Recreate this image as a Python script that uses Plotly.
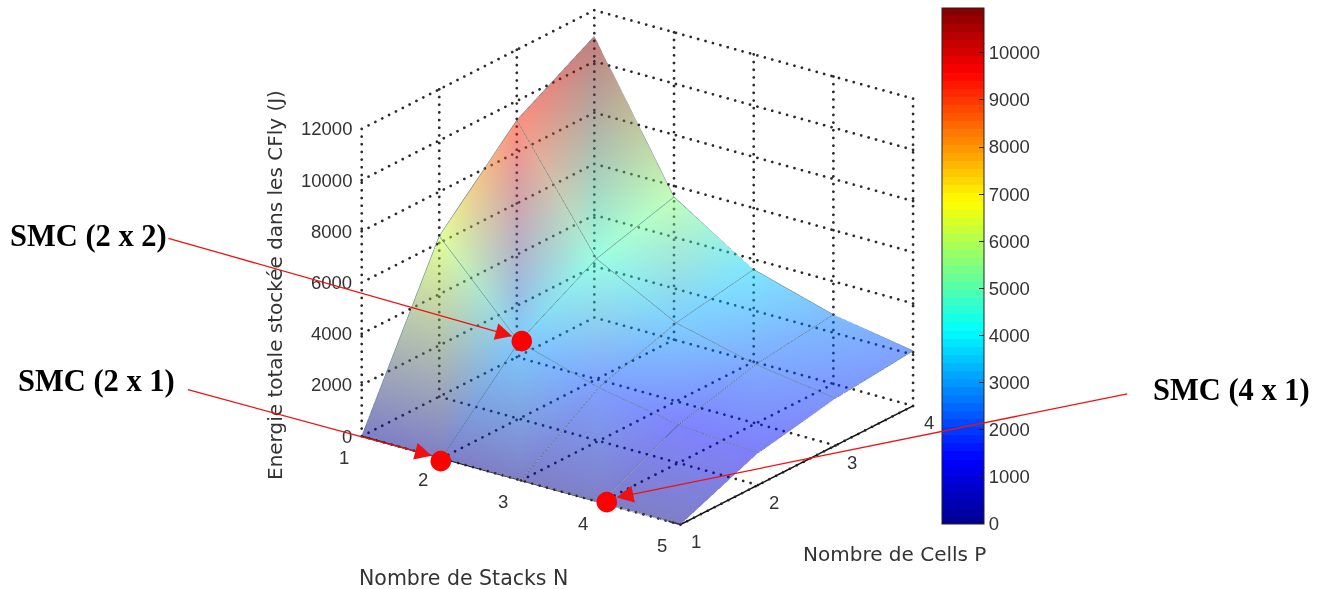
import math
import plotly.graph_objects as go

W, H = 1325, 589
stacks_n = [1, 2, 3, 4, 5]
cells_p = [1, 2, 3, 4]
z_ticks = [0, 2000, 4000, 6000, 8000, 10000, 12000]
cbar_ticks = list(range(0, 11000, 1000))
energy_p1 = [0, 0, 0, 0, 0]
energy_p2 = [6270, 3000, 2080, 1490, 1250]
energy_p3 = [9250, 4700, 3060, 2300, 1840]
energy_p4 = [10980, 5570, 3600, 2700, 2150]
energy = [energy_p1, energy_p2, energy_p3, energy_p4]
smc_n = [2, 2, 4]
smc_p = [2, 1, 1]
smc_z = [3000, 0, 0]
smc_shift_x = [3, 0, 6]
smc_shift_y = [3, 0, 3]
cmax = 10950
jet_stops = [(0, (0, 0, 143)), (0.125, (0, 0, 255)), (0.375, (0, 255, 255)),
             (0.625, (255, 255, 0)), (0.875, (255, 0, 0)), (1, (128, 0, 0))]


def jet_rgb(t):
    t = min(max(t, 0), 1)
    for (t0, c0), (t1, c1) in zip(jet_stops, jet_stops[1:]):
        if t <= t1:
            f = (t-t0)/(t1-t0)
            return tuple(round(c0[i]+(c1[i]-c0[i])*f) for i in range(3))
    return jet_stops[-1][1]


def css(c):
    return f"rgb({c[0]},{c[1]},{c[2]})"


# 64 level colour map, as the colour bar shows it
levels = 64
jet64 = []
for lv in range(levels):
    c = css(jet_rgb((lv+0.5)/levels))
    jet64 += [[lv/levels, c], [(lv+1)/levels, c]]

az = math.radians(36.4)
el = math.radians(22.1)
dist = 1.5
px = 293.0
view = (math.sin(az)*math.cos(el), -math.cos(az)*math.cos(el), math.sin(el))
right = (math.cos(az), math.sin(az), 0)
upv = (-math.sin(az)*math.sin(el), math.cos(az)*math.sin(el), math.cos(el))
sx, sy = 25/px, 27/px
center = [sx*right[i] - sy*upv[i] for i in range(3)]
eye = [center[i] + dist*view[i] for i in range(3)]

n0, n1 = stacks_n[0], stacks_n[-1]
p0, p1 = cells_p[0], cells_p[-1]
z0, z1 = z_ticks[0], z_ticks[-1]
grid = []
for n in stacks_n:
    grid.append(((n, p0, z0), (n, p1, z0)))
    grid.append(((n, p1, z0), (n, p1, z1)))
for p in cells_p:
    grid.append(((n0, p, z0), (n1, p, z0)))
    grid.append(((n0, p, z0), (n0, p, z1)))
for zt in z_ticks:
    grid.append(((n0, p0, zt), (n0, p1, zt)))
    grid.append(((n0, p1, zt), (n1, p1, zt)))

# dotted rule: one small marker every few screen pixels along each grid line
gx, gy, gz = [], [], []
for a, b in grid:
    sdx = (b[0]-a[0])/(n1-n0)*317 + (b[1]-a[1])/(p1-p0)*231
    sdy = (b[0]-a[0])/(n1-n0)*88 - (b[1]-a[1])/(p1-p0)*118 - (b[2]-a[2])/(z1-z0)*306
    steps = int(math.hypot(sdx, sdy)/7.5)
    for k in range(steps+1):
        t = k/steps
        gx.append(a[0]+(b[0]-a[0])*t)
        gy.append(a[1]+(b[1]-a[1])*t)
        gz.append(a[2]+(b[2]-a[2])*t)

ex = [n0, n1, n1]
ey = [p0, p0, p1]
ez = [z0, z0, z0]

# vertices of the surface, coloured per vertex so the RGB blends across each facet
vx, vy, vz, vc = [], [], [], []
for jp, p in enumerate(cells_p):
    for jn, n in enumerate(stacks_n):
        vx.append(n)
        vy.append(p)
        vz.append(energy[jp][jn])
        vc.append(css(jet_rgb(energy[jp][jn]/cmax)))
cols = len(stacks_n)
ti, tj, tk = [], [], []
for jp in range(len(cells_p)-1):
    for jn in range(cols-1):
        a = jp*cols+jn
        b = a+1
        c = a+cols
        d = c+1
        ti += [a, b]
        tj += [b, d]
        tk += [c, c]

# wire lines of the surface
wx, wy, wz = [], [], []
for jp, p in enumerate(cells_p):
    wx += stacks_n + [None]
    wy += [p]*cols + [None]
    wz += energy[jp] + [None]
for jn, n in enumerate(stacks_n):
    wx += [n]*len(cells_p) + [None]
    wy += cells_p + [None]
    wz += [row[jn] for row in energy] + [None]

fig = go.Figure()
fig.add_trace(go.Scatter3d(x=gx, y=gy, z=gz, mode="markers", hoverinfo="skip", showlegend=False,
                           marker=dict(color="#2a2a2a", size=1.6, line=dict(width=0))))
fig.add_trace(go.Scatter3d(x=wx, y=wy, z=wz, mode="lines", hoverinfo="skip", showlegend=False,
                           line=dict(color="#5f7f8a", width=1.2)))
fig.add_trace(go.Scatter3d(x=ex, y=ey, z=ez, mode="lines", hoverinfo="skip", showlegend=False,
                           line=dict(color="#111111", width=3)))
fig.add_trace(go.Mesh3d(x=vx, y=vy, z=vz, i=ti, j=tj, k=tk, vertexcolor=vc, opacity=0.5, flatshading=False,
                        lighting=dict(ambient=1, diffuse=0, specular=0, roughness=1, fresnel=0),
                        hoverinfo="skip", showscale=False))
fig.add_trace(go.Scatter3d(
    x=smc_n, y=smc_p, z=smc_z, mode="markers", hoverinfo="skip", showlegend=False,
    marker=dict(size=1, color=smc_z, cmin=0, cmax=cmax, colorscale=jet64, showscale=True,
                colorbar=dict(x=942/W, xanchor="left", y=1-8/H, yanchor="top", len=516/H, lenmode="fraction",
                              thickness=42, thicknessmode="pixels", xpad=0, ypad=0,
                              outlinecolor="#222222", outlinewidth=1,
                              tickmode="array", tickvals=cbar_ticks, ticktext=[str(v) for v in cbar_ticks],
                              ticks="inside", ticklen=5, tickcolor="#222222",
                              tickfont=dict(family="Liberation Sans", size=18.5, color="#333333")))))


def axis(rng):
    return dict(range=rng, showticklabels=False, showgrid=False, showbackground=False,
                zeroline=False, showline=False, showspikes=False, ticks="", title=dict(text=""))


tick_font = dict(family="Liberation Sans", size=18.5, color="#333333")
scene_notes = []
for n in stacks_n:
    scene_notes.append(dict(x=n, y=p0, z=z0, text=str(n), showarrow=False, xshift=-18, yshift=-21,
                            font=tick_font))
for p in cells_p:
    scene_notes.append(dict(x=n1, y=p, z=z0, text=str(p), showarrow=False, xshift=16, yshift=-17,
                            font=tick_font))
for zt in z_ticks:
    scene_notes.append(dict(x=n0, y=p0, z=zt, text=str(zt), showarrow=False, xanchor="right", xshift=-8,
                            font=tick_font))
# red markers on top of the surface, then the arrows pointing at them
for n, p, zv, dx, dy in zip(smc_n, smc_p, smc_z, smc_shift_x, smc_shift_y):
    scene_notes.append(dict(x=n, y=p, z=zv, text="●", showarrow=False, xshift=dx, yshift=dy,
                            font=dict(family="DejaVu Sans", size=27, color="#ff0000")))
arrow = dict(showarrow=True, text=" ", arrowcolor="#ee1111", arrowwidth=1.3, arrowhead=2, arrowsize=2.6,
             standoff=10, font=dict(size=1))
tails = [(166-521, 240-341), (186-441, 391-460), (1128-606, 395-501)]
for n, p, zv, dx, dy, (tx, ty) in zip(smc_n, smc_p, smc_z, smc_shift_x, smc_shift_y, tails):
    scene_notes.append(dict(x=n, y=p, z=zv, ax=tx, ay=ty, xshift=dx, yshift=dy, **arrow))

fig.update_layout(
    width=W, height=H, autosize=False, margin=dict(l=0, r=0, t=0, b=0), paper_bgcolor="white",
    showlegend=False,
    scene=dict(
        domain=dict(x=[0, 1], y=[0, 1]),
        xaxis=axis([n0, n1]), yaxis=axis([p0, p1]), zaxis=axis([z0, z1]),
        aspectmode="manual", aspectratio=dict(x=394/px, y=390/px, z=330/px),
        camera=dict(projection=dict(type="orthographic"),
                    eye=dict(x=eye[0], y=eye[1], z=eye[2]),
                    center=dict(x=center[0], y=center[1], z=center[2]),
                    up=dict(x=0, y=0, z=1)),
        annotations=scene_notes,
    ),
)


def note(text, x, y, size, family, color, angle=0, bold=False):
    fig.add_annotation(text=f"<b>{text}</b>" if bold else text, x=x/W, y=1-y/H, xref="paper", yref="paper",
                       showarrow=False, textangle=angle, xanchor="center", yanchor="middle",
                       font=dict(size=size, family=family, color=color))


note("SMC (2 x 2)", 88, 236, 30.5, "Liberation Serif", "black", bold=True)
note("SMC (2 x 1)", 96, 381, 30.5, "Liberation Serif", "black", bold=True)
note("SMC (4 x 1)", 1231, 390, 30.5, "Liberation Serif", "black", bold=True)
note("Nombre de Stacks N", 463, 578, 20.5, "DejaVu Sans", "#333333")
note("Nombre de Cells P", 894, 554, 20, "DejaVu Sans", "#333333")
note("Energie totale stockée dans les CFly (J)", 275, 285, 20, "DejaVu Sans", "#333333", angle=-90)

fig.write_html("out.html", post_script="document.body.style.margin='0';", config=dict(displayModeBar=False))
